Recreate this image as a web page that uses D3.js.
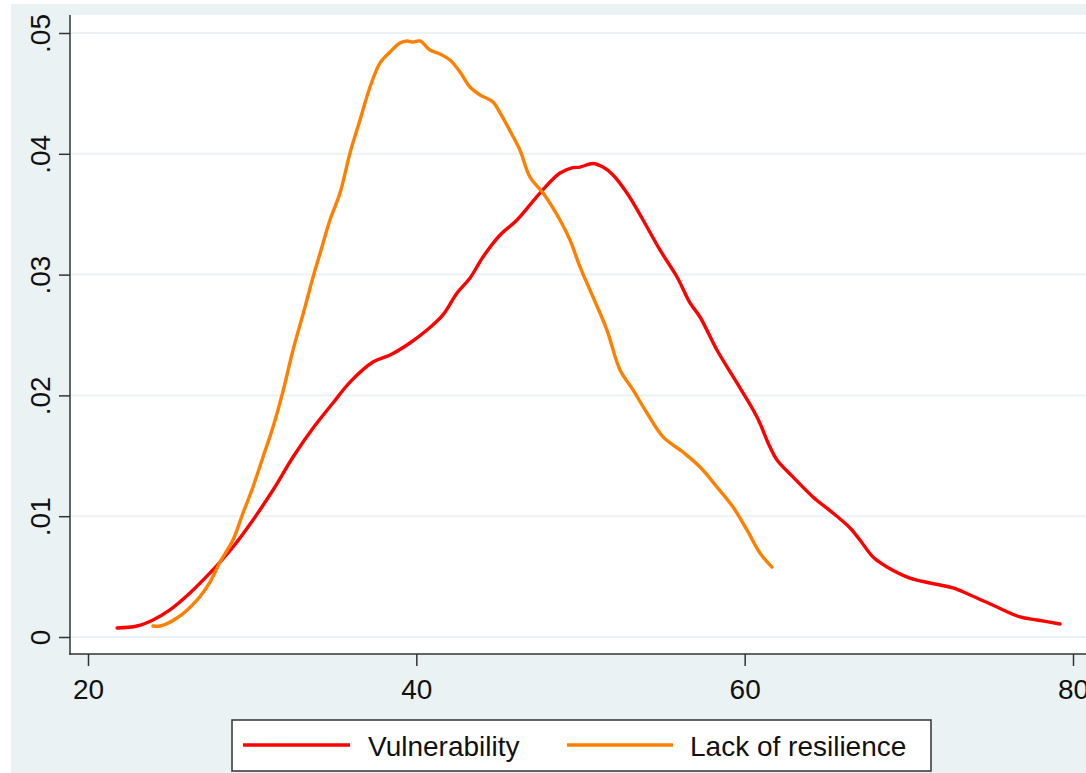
<!DOCTYPE html>
<html>
<head>
<meta charset="utf-8">
<script src="https://cdn.jsdelivr.net/npm/d3@7"></script>
<style>
  html, body { margin: 0; padding: 0; background: #ffffff; }
  svg { display: block; }
  text { font-family: "Liberation Sans", Arial, sans-serif; }
</style>
</head>
<body>
<svg id="chart" width="1086" height="773"></svg>
<script>
// ---- Data ----
const seriesNames = ["Vulnerability", "Lack of resilience"];
const seriesColors = ["#ff0000", "#ff7f00"];

const vulnerabilityX = [21.77, 22.98, 23.96, 24.99, 26.21, 27.43, 28.04, 28.83, 30.05, 31.27, 32.49, 33.71, 34.92, 35.96, 37.36, 38.40, 39.61, 40.65, 41.62, 42.48, 43.27, 44.06, 45.10, 46.13, 47.53, 48.75, 49.54, 49.97, 50.76, 51.37, 51.98, 52.83, 53.81, 54.84, 55.88, 56.67, 57.28, 58.31, 59.53, 60.75, 61.54, 61.97, 62.94, 64.16, 65.38, 66.42, 67.02, 67.82, 68.67, 70.07, 71.29, 72.69, 73.73, 75.37, 76.77, 77.81, 79.21];
const vulnerabilityY = [0.00075, 0.00091, 0.00141, 0.00224, 0.00364, 0.0053, 0.0062, 0.00745, 0.00969, 0.01217, 0.0149, 0.0173, 0.01937, 0.02110, 0.02276, 0.02334, 0.02434, 0.02541, 0.02666, 0.02848, 0.02972, 0.03146, 0.03328, 0.03452, 0.03675, 0.03841, 0.03885, 0.0389, 0.0392, 0.0389, 0.03825, 0.03675, 0.03452, 0.03204, 0.0298, 0.02765, 0.02649, 0.02376, 0.02103, 0.01821, 0.01573, 0.01465, 0.01325, 0.01159, 0.01026, 0.00902, 0.00803, 0.00662, 0.0058, 0.00488, 0.00447, 0.00406, 0.00348, 0.00248, 0.00166, 0.00141, 0.00108];

const resilienceX = [23.96, 24.39, 25.42, 26.64, 27.43, 28.04, 28.83, 29.44, 30.05, 30.66, 31.27, 31.85, 32.49, 33.22, 33.71, 34.25, 34.74, 35.35, 35.96, 36.57, 37.18, 37.79, 38.40, 39.00, 39.43, 39.80, 40.22, 40.83, 41.44, 42.05, 42.66, 43.27, 43.88, 44.67, 45.10, 45.71, 46.31, 46.92, 47.72, 48.75, 49.36, 49.97, 50.76, 51.61, 52.41, 53.20, 54.05, 55.03, 56.24, 57.28, 58.31, 59.29, 60.14, 60.93, 61.66];
const resilienceY = [0.00091, 0.00091, 0.00157, 0.00306, 0.00455, 0.0062, 0.00803, 0.01026, 0.01242, 0.0149, 0.01738, 0.0202, 0.02376, 0.02732, 0.0298, 0.03228, 0.03452, 0.03675, 0.04007, 0.0428, 0.04553, 0.04752, 0.04843, 0.04917, 0.04934, 0.04925, 0.04934, 0.04859, 0.04826, 0.04776, 0.04677, 0.04553, 0.04487, 0.04429, 0.04338, 0.04189, 0.04031, 0.03808, 0.03675, 0.03452, 0.03286, 0.03063, 0.02815, 0.02541, 0.0221, 0.02045, 0.01854, 0.01656, 0.01531, 0.01407, 0.01242, 0.01076, 0.00886, 0.00695, 0.00579];

const xTicks = [20, 40, 60, 80];
const xTickLabels = ["20", "40", "60", "80"];
const yTicks = [0, 0.01, 0.02, 0.03, 0.04, 0.05];
const yTickLabels = ["0", ".01", ".02", ".03", ".04", ".05"];

// ---- Layout ----
const W = 1086, H = 773;
const bgColor = "#eaf2f3";
const plot = { left: 70, top: 15, right: 1086, bottom: 654 };
const fontSize = 28;

const svg = d3.select("#chart");

// outer graph region
svg.append("rect").attr("x", 11).attr("y", 4).attr("width", W - 11).attr("height", H - 4).attr("fill", bgColor);
// plot region
svg.append("rect").attr("x", plot.left).attr("y", plot.top)
  .attr("width", plot.right - plot.left).attr("height", plot.bottom - plot.top).attr("fill", "#ffffff");

const x = d3.scaleLinear().domain([20, 80]).range([88, 1073]);
const y = d3.scaleLinear().domain([0, 0.05]).range([637, 33]);

// gridlines
svg.append("g").selectAll("line").data(yTicks).join("line")
  .attr("x1", plot.left + 1).attr("x2", plot.right)
  .attr("y1", d => y(d)).attr("y2", d => y(d))
  .attr("stroke", bgColor).attr("stroke-width", 2);

// curves
const line = d3.line().x(d => x(d[0])).y(d => y(d[1])).curve(d3.curveCatmullRom.alpha(0.5));
const series = [
  d3.zip(vulnerabilityX, vulnerabilityY),
  d3.zip(resilienceX, resilienceY)
];
svg.append("g").selectAll("path").data(series).join("path")
  .attr("d", d => line(d))
  .attr("fill", "none")
  .attr("stroke", (d, i) => seriesColors[i])
  .attr("stroke-width", 3.4)
  .attr("stroke-linejoin", "round")
  .attr("stroke-linecap", "round");

// y axis
const yAxis = svg.append("g").attr("transform", `translate(${plot.left},0)`)
  .call(d3.axisLeft(y).tickValues(yTicks).tickFormat((d, i) => yTickLabels[i]).tickSize(11));
yAxis.select(".domain").remove();
yAxis.selectAll(".tick line").attr("stroke", "#333").attr("stroke-width", 1.5);
yAxis.selectAll(".tick text")
  .attr("x", 0).attr("dy", null).attr("y", -20)
  .attr("transform", "rotate(-90)")
  .attr("text-anchor", "middle")
  .attr("fill", "#111")
  .style("font-size", fontSize + "px")
  .style("font-family", '"Liberation Sans", Arial, sans-serif');

// x axis
const xAxis = svg.append("g").attr("transform", `translate(0,${plot.bottom})`)
  .call(d3.axisBottom(x).tickValues(xTicks).tickFormat((d, i) => xTickLabels[i]).tickSize(12));
xAxis.select(".domain").remove();
xAxis.selectAll(".tick line").attr("stroke", "#333").attr("stroke-width", 1.5);
xAxis.selectAll(".tick text")
  .attr("y", 45).attr("dy", null)
  .attr("fill", "#111")
  .style("font-size", fontSize + "px")
  .style("font-family", '"Liberation Sans", Arial, sans-serif');

// axis lines
svg.append("line").attr("x1", plot.left).attr("x2", plot.left).attr("y1", plot.top).attr("y2", plot.bottom + 0.75)
  .attr("stroke", "#333").attr("stroke-width", 1.5);
svg.append("line").attr("x1", plot.left - 0.75).attr("x2", plot.right).attr("y1", plot.bottom).attr("y2", plot.bottom)
  .attr("stroke", "#333").attr("stroke-width", 1.5);

// legend
const lg = svg.append("g");
lg.append("rect").attr("x", 232).attr("y", 720).attr("width", 699).attr("height", 51)
  .attr("fill", "#ffffff").attr("stroke", "#333").attr("stroke-width", 1.5);
const legendItems = [
  { x0: 243, x1: 350, tx: 368 },
  { x0: 567, x1: 673, tx: 690 }
];
legendItems.forEach((it, i) => {
  lg.append("line").attr("x1", it.x0).attr("x2", it.x1).attr("y1", 745).attr("y2", 745)
    .attr("stroke", seriesColors[i]).attr("stroke-width", 3.4);
  lg.append("text").attr("x", it.tx).attr("y", 756).attr("fill", "#111")
    .style("font-size", fontSize + "px").text(seriesNames[i]);
});
</script>
</body>
</html>
